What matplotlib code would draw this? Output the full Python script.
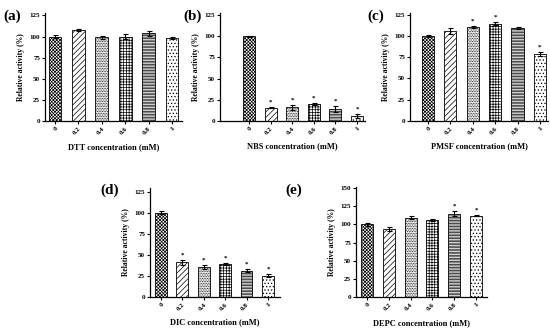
import numpy as np
import matplotlib
matplotlib.use("Agg")
import matplotlib.pyplot as plt

plt.rcParams['font.family'] = 'Liberation Serif'
plt.rcParams['font.weight'] = 'bold'
plt.rcParams['hatch.linewidth'] = 0.5

# Data
conc = ["0", "0.2", "0.4", "0.6", "0.8", "1"]

dtt = [100, 108, 99, 100, 104, 98.5]
dtt_err = [2, 1.5, 1.5, 2.5, 3, 1.5]
dtt_sig = [False, False, False, False, False, False]

nbs = [100, 15.5, 16, 20, 14, 6]
nbs_err = [0.5, 0.5, 3, 1.5, 3.5, 2]
nbs_sig = [False, True, True, True, True, True]

pmsf = [100, 106, 111, 115, 110, 79]
pmsf_err = [1, 3.5, 1.5, 2, 1, 2.5]
pmsf_sig = [False, False, True, True, False, True]

dic = [100, 41, 35, 39, 31, 25]
dic_err = [1.5, 3, 2.5, 1.5, 2, 1.5]
dic_sig = [False, True, True, True, True, True]

depc = [100, 94, 109, 106, 115, 112]
depc_err = [2, 3, 2, 1.5, 3, 1]
depc_sig = [False, False, False, False, True, True]

hatches = ['xxxxxxxxxx', '//////', '..........', '++++++', '-----------', '.....']

W, H = 550, 332
fig = plt.figure(figsize=(W / 100, H / 100), dpi=100)


def panel(rect, vals, errs, sig, name, letter, ymax, top, xlim, lab_xy, step=25):
    l, r, b, t = rect
    ax = fig.add_axes([l / W, 1 - b / H, (r - l) / W, (b - t) / H])
    x = np.arange(len(vals))
    ax.bar(x, vals, width=0.55, color='white', edgecolor='black',
           linewidth=0.6, hatch=hatches, yerr=errs, capsize=1.8,
           error_kw=dict(elinewidth=0.8, capthick=0.8, ecolor='black'))
    for xi, v, e, s in zip(x, vals, errs, sig):
        if s:
            ax.text(xi, v + e + 3 * ymax / 125, '*', ha='center', va='bottom',
                    fontsize=5, fontweight='bold')
    ax.set_xlim(*xlim)
    ax.set_ylim(0, top)
    ax.set_yticks(np.arange(0, ymax + 1, step))
    ax.set_xticks(x)
    ax.set_xticklabels(conc, rotation=45, ha='right', rotation_mode='anchor')
    ax.tick_params(labelsize=5, length=2, width=0.8, pad=1.5)
    for lab in ax.get_xticklabels() + ax.get_yticklabels():
        lab.set_fontweight('bold')
    ax.spines['top'].set_visible(False)
    ax.spines['right'].set_visible(False)
    ax.spines['left'].set_linewidth(0.9)
    ax.spines['bottom'].set_linewidth(0.9)
    ax.set_ylabel('Relative activity (%)', fontsize=5.5, fontweight='bold', labelpad=3)
    ax.set_xlabel(name + ' concentration (mM)', fontsize=6, fontweight='bold', labelpad=5)
    fig.text(lab_xy[0] / W, 1 - lab_xy[1] / H, letter, fontsize=11,
             fontweight='bold', ha='left', va='center')
    return ax


panel((45, 182, 121.3, 13.3), dtt, dtt_err, dtt_sig, 'DTT', '(a)', 125, 127.5, (-0.43, 5.43), (3, 16))
panel((220, 365, 121, 13), nbs, nbs_err, nbs_sig, 'NBS', '(b)', 125, 127.5, (-1.34, 5.37), (183, 16))
panel((410, 548, 120.7, 13), pmsf, pmsf_err, pmsf_sig, 'PMSF', '(c)', 125, 127.5, (-0.8, 5.36), (367, 16))
panel((150, 280, 296.7, 188.3), dic, dic_err, dic_sig, 'DIC', '(d)', 125, 129, (-0.51, 5.56), (100, 190))
panel((356, 487, 297.3, 187), depc, depc_err, depc_sig, 'DEPC', '(e)', 150, 151.5, (-0.5, 5.5), (285, 190))

fig.savefig('out.png', dpi=100)
